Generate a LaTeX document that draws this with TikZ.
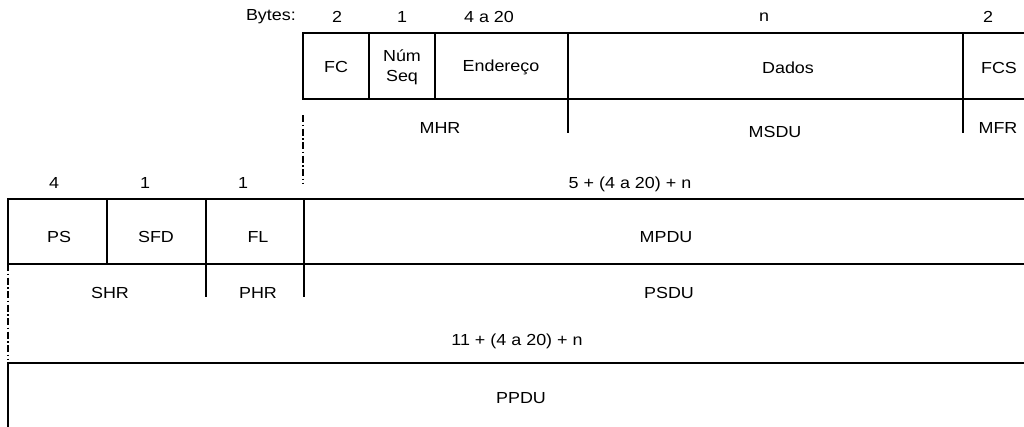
\documentclass[tikz,border=0pt]{standalone}
\usepackage{fontspec}
\setmainfont{Liberation Sans}[FakeStretch=1.12]
\begin{document}
\begin{tikzpicture}[x=1pt,y=-1pt,
  lbl/.style={inner sep=0pt,font=\fontsize{16}{20}\selectfont,align=center},
  frame/.style={line width=1.7pt},
  dd/.style={line width=1.2pt,dash pattern=on 7pt off 2.5pt on 1.5pt off 2.5pt}]
\useasboundingbox (0,0) rectangle (1024,426);
% coordinates
\coordinate (t0) at (303,33); \coordinate (t1) at (369,33); \coordinate (t2) at (435,33);
\coordinate (t3) at (568,33); \coordinate (t4) at (963,33); \coordinate (tR) at (1026,33);
\coordinate (b0) at (303,99); \coordinate (b1) at (369,99); \coordinate (b2) at (435,99);
\coordinate (b3) at (568,99); \coordinate (b4) at (963,99); \coordinate (bR) at (1026,99);
\coordinate (d3) at (568,133); \coordinate (d4) at (963,133);
\coordinate (dd1a) at (303,115); \coordinate (dd1b) at (303,183);
\coordinate (m0) at (8,199); \coordinate (m1) at (107,199); \coordinate (m2) at (206,199);
\coordinate (m3) at (304,199); \coordinate (mR) at (1026,199);
\coordinate (n0) at (8,264); \coordinate (n1) at (107,264); \coordinate (n2) at (206,264);
\coordinate (n3) at (304,264); \coordinate (nR) at (1026,264);
\coordinate (p2) at (206,297); \coordinate (p3) at (304,297);
\coordinate (dd2a) at (8,264); \coordinate (dd2b) at (8,360);
\coordinate (q0) at (8,363); \coordinate (qR) at (1026,363); \coordinate (qB) at (8,428);
% top frame
\draw[frame] (tR) -- (t0) -- (b0) -- (bR);
\draw[frame] (t1) -- (b1) (t2) -- (b2) (t3) -- (b3) (t4) -- (b4);
\draw[frame] (b3) -- (d3) (b4) -- (d4);
\draw[dd] (dd1a) -- (dd1b);
% middle frame
\draw[frame] (mR) -- (m0) -- (n0) -- (nR);
\draw[frame] (m1) -- (n1) (m2) -- (n2) (m3) -- (n3);
\draw[frame] (n2) -- (p2) (n3) -- (p3);
\draw[dd] (dd2a) -- (dd2b);
% bottom frame
\draw[frame] (qR) -- (q0) -- (qB);
% top labels
\node[lbl,anchor=east] (bytes) at (296,17) {Bytes:};
\node[lbl] (s1) at (337,17) {2};
\node[lbl] (s2) at (402,17) {1};
\node[lbl] (s3) at (489,17) {4 a 20};
\node[lbl] (s4) at (764,17) {n};
\node[lbl] (s5) at (988,17) {2};
\node[lbl] (fc) at (336,67) {FC};
\node[lbl] (num) at (402,67) {Núm\\Seq};
\node[lbl] (end) at (501,67) {Endereço};
\node[lbl] (dados) at (788,68) {Dados};
\node[lbl] (fcs) at (999,68) {FCS};
\node[lbl] (mhr) at (440,128) {MHR};
\node[lbl] (msdu) at (775,132) {MSDU};
\node[lbl] (mfr) at (998,128) {MFR};
% middle labels
\node[lbl] (s6) at (54,183) {4};
\node[lbl] (s7) at (145,183) {1};
\node[lbl] (s8) at (243,183) {1};
\node[lbl] (s9) at (630,184) {5 + (4 a 20) + n};
\node[lbl] (ps) at (59,237) {PS};
\node[lbl] (sfd) at (156,237) {SFD};
\node[lbl] (fl) at (258,237) {FL};
\node[lbl] (mpdu) at (666,237) {MPDU};
\node[lbl] (shr) at (110,293) {SHR};
\node[lbl] (phr) at (258,293) {PHR};
\node[lbl] (psdu) at (669,293) {PSDU};
\node[lbl] (s10) at (517,341) {11 + (4 a 20) + n};
\node[lbl] (ppdu) at (521,398) {PPDU};
\end{tikzpicture}
\end{document}
